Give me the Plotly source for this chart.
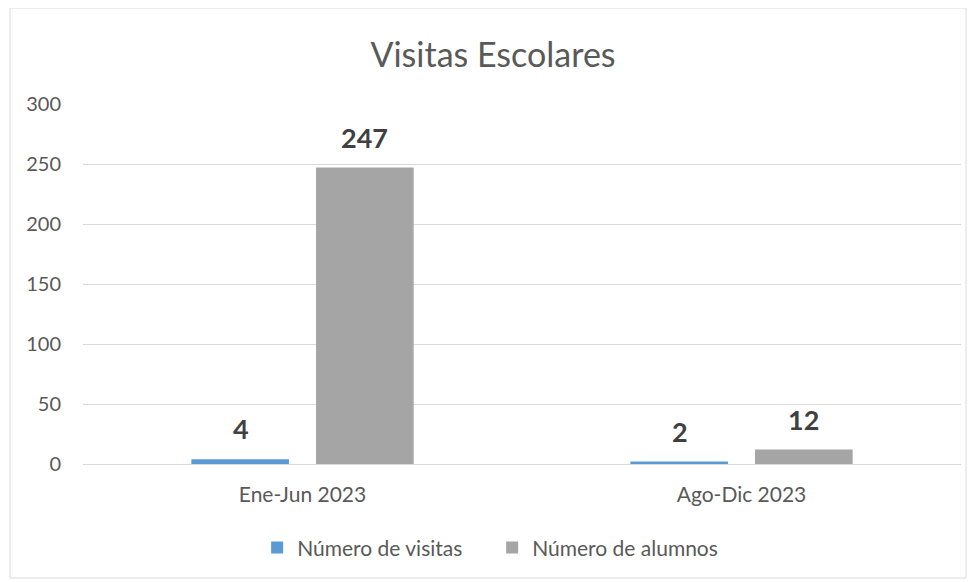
import plotly.graph_objects as go

categories = ["Ene-Jun 2023", "Ago-Dic 2023"]
visitas = [4, 2]
alumnos = [247, 12]
series_names = ["Número de visitas", "Número de alumnos"]
title_text = "Visitas Escolares"
y_ticks = [0, 50, 100, 150, 200, 250, 300]

colors = ["#5B9BD5", "#A5A5A5"]
font_family = "Lato, 'Open Sans', sans-serif"

fig = go.Figure()
for name, vals, col in zip(series_names, [visitas, alumnos], colors):
    fig.add_trace(go.Bar(x=categories, y=vals, name=name, marker=dict(color=col, line=dict(width=0))))

# data labels
offsets = [-62, 62]
for vals, dx in zip([visitas, alumnos], offsets):
    for c, v in zip(categories, vals):
        fig.add_annotation(x=c, y=v, text=f"<b>{v}</b>", showarrow=False, xshift=dx,
                           yanchor="bottom", yshift=12,
                           font=dict(size=27, color="#404040", family=font_family))

fig.update_layout(
    width=970, height=574,
    margin=dict(l=75, r=17, t=96, b=118),
    paper_bgcolor="white", plot_bgcolor="white",
    barmode="group", bargap=0.432, bargroupgap=0.217,
    title=dict(text=title_text, x=0.5, xanchor="center", y=0.918, yanchor="middle",
               font=dict(size=34, color="#595959", family=font_family)),
    font=dict(family=font_family, color="#595959", size=21),
    showlegend=True,
    legend=dict(orientation="h", x=0.466, xanchor="center", y=-0.233, yanchor="middle",
                font=dict(size=21, color="#595959"), traceorder="normal",
                entrywidth=190, itemwidth=30),
    xaxis=dict(showgrid=False, showline=True, linecolor="#D9D9D9", linewidth=1,
               ticks="", tickfont=dict(size=21, color="#595959"), ticklabelstandoff=12),
    yaxis=dict(range=[0, 300], tickvals=y_ticks, showgrid=True, gridcolor="#D9D9D9",
               gridwidth=1, zeroline=False, showline=False, ticks="",
               tickfont=dict(size=20, color="#595959"), ticklabelstandoff=21),
    shapes=[dict(type="rect", xref="paper", yref="paper", x0=-0.0831, x1=1.0057,
                 y0=-0.3167, y1=1.2667, line=dict(color="#D9D9D9", width=1))],
)

fig.write_html("out.html")
